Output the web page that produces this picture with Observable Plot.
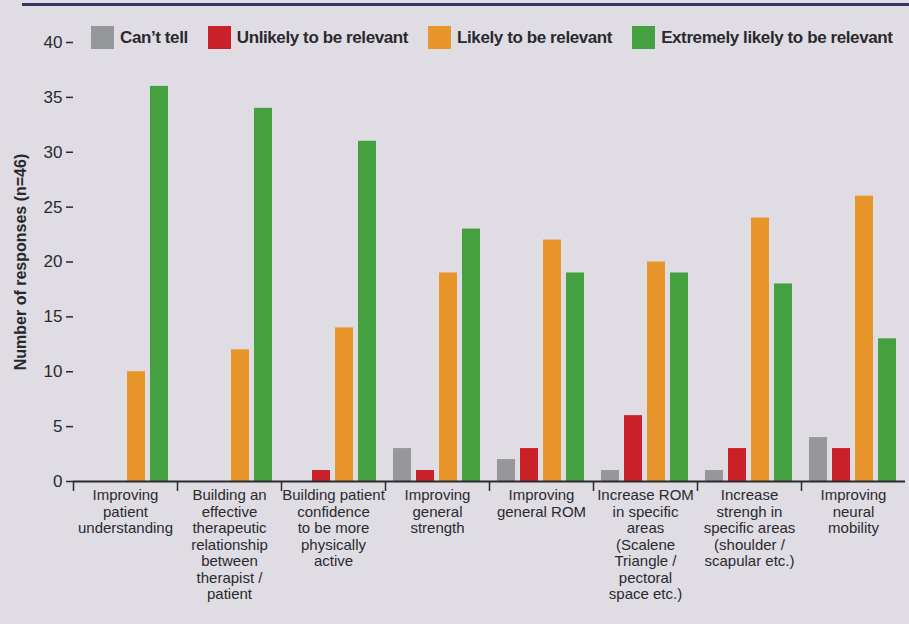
<!DOCTYPE html>
<html><head><meta charset="utf-8">
<script src="https://cdn.jsdelivr.net/npm/d3@7"></script>
<script src="https://cdn.jsdelivr.net/npm/@observablehq/plot@0.6"></script>
<style>
body{margin:0;background:#dfdce3;}
#wrap{position:relative;width:909px;height:624px;overflow:hidden;font-family:"Liberation Sans",Arial,sans-serif;color:#2a2a2e;}
#topline{position:absolute;left:22px;right:0;top:3px;height:2.5px;background:#3a3461;}
#legend{position:absolute;top:26px;left:91px;display:flex;align-items:center;font-weight:bold;font-size:17px;letter-spacing:-0.4px;white-space:nowrap;}
#legend .item{display:flex;align-items:center;margin-right:20px;}
#legend .sw{width:23px;height:23px;margin-right:6px;}
#chart{position:absolute;left:0;top:0;}
</style></head>
<body>
<div id="wrap">
  <div id="topline"></div>
  <div id="chart"></div>
  <div id="legend"></div>
</div>
<script>
const categories = ["Improving patient understanding","Building an effective therapeutic relationship between therapist / patient","Building patient confidence to be more physically active","Improving general strength","Improving general ROM","Increase ROM in specific areas (Scalene Triangle / pectoral space etc.)","Increase strengh in specific areas (shoulder / scapular etc.)","Improving neural mobility"];
const tickLabels = ["Improving\npatient\nunderstanding","Building an\neffective\ntherapeutic\nrelationship\nbetween\ntherapist /\npatient","Building patient\nconfidence\nto be more\nphysically\nactive","Improving\ngeneral\nstrength","Improving\ngeneral ROM","Increase ROM\nin specific\nareas\n(Scalene\nTriangle /\npectoral\nspace etc.)","Increase\nstrengh in\nspecific areas\n(shoulder /\nscapular etc.)","Improving\nneural\nmobility"];
const series = ["Can’t tell","Unlikely to be relevant","Likely to be relevant","Extremely likely to be relevant"];
const colors = ["#96979b","#c9202a","#e8952a","#45a040"];
const cantTell = [0,0,0,3,2,1,1,4];
const unlikely = [0,0,1,1,3,6,3,3];
const likely = [10,12,14,19,22,20,24,26];
const extremely = [36,34,31,23,19,19,18,13];
const yTicks = [0,5,10,15,20,25,30,35,40];
const yLabel = "Number of responses (n=46)";

const valuesBySeries = [cantTell, unlikely, likely, extremely];
const data = [];
categories.forEach((c, i) => series.forEach((s, j) => data.push({category: c, series: s, value: valuesBySeries[j][i]})));

const font = "'Liberation Sans',Arial,sans-serif";
const ink = "#2a2a2e";
const W = 909, ML = 73, MR = 4;
const step = (W - ML - MR) / categories.length;

const chart = Plot.plot({
  width: W, height: 624,
  marginLeft: ML, marginRight: MR, marginTop: 42, marginBottom: 143,
  style: {background: "transparent", fontFamily: font, color: ink, overflow: "visible"},
  fx: {domain: categories, padding: 0, label: null},
  x: {domain: series, paddingInner: 0.21, paddingOuter: 0.28, axis: null},
  y: {domain: [0, 40]},
  color: {domain: series, range: colors},
  marks: [
    Plot.barY(data.filter(d => d.value > 0), {fx: "category", x: "series", y: "value", fill: "series"}),
    Plot.ruleY([0], {stroke: ink, strokeWidth: 2}),
    Plot.axisY({ticks: yTicks, tickSize: 7, tickPadding: 4, fontSize: 17, label: null, line: true, stroke: ink, strokeWidth: 1.5}),
    Plot.axisY({ticks: [], label: yLabel, labelArrow: "none", labelAnchor: "center", labelOffset: 59, fontSize: 16, fontWeight: "bold", tickSize: 0}),
    Plot.axisFx({anchor: "bottom", tickSize: 0, tickPadding: 7, fontSize: 15, lineHeight: 1.1, label: null,
      tickFormat: d => tickLabels[categories.indexOf(d)]}),
    Plot.axisFx({anchor: "bottom", tickSize: 10, tickFormat: () => "", label: null, dx: -step / 2, stroke: ink, strokeWidth: 1.5})
  ]
});
document.getElementById("chart").appendChild(chart);

const legend = document.getElementById("legend");
series.forEach((s, j) => {
  const it = document.createElement("div"); it.className = "item";
  const sw = document.createElement("div"); sw.className = "sw"; sw.style.background = colors[j];
  const t = document.createElement("span"); t.textContent = s;
  it.appendChild(sw); it.appendChild(t); legend.appendChild(it);
});
</script>
</body></html>
